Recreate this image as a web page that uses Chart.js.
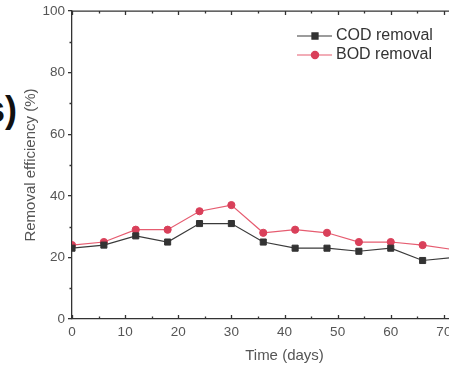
<!DOCTYPE html>
<html><head><meta charset="utf-8">
<script src="https://cdn.jsdelivr.net/npm/chart.js@4/dist/chart.umd.min.js"></script>
<style>
html,body{margin:0;padding:0;background:#fff;overflow:hidden;width:449px;height:366px;position:relative}
#wrap{position:absolute;left:0;top:0;width:540px;height:366px}
#frag{position:absolute;left:-15px;top:92px;font-family:"Liberation Sans",Arial,sans-serif;font-size:36px;font-weight:bold;line-height:1;color:#111;white-space:nowrap}
</style></head>
<body>
<div id="frag">s)</div>
<div id="wrap"><canvas id="c" width="540" height="366"></canvas></div>
<script>
const days = [0, 6, 12, 18, 24, 30, 36, 42, 48, 54, 60, 66, 72];
const codRemoval = [23, 24, 27, 25, 31, 31, 25, 23, 23, 22, 23, 19, 20];
const bodRemoval = [24, 25, 29, 29, 35, 37, 28, 29, 28, 25, 25, 24, 22.5];
const seriesNames = ['COD removal', 'BOD removal'];
const xAxisTitle = 'Time (days)';
const yAxisTitle = 'Removal efficiency (%)';

const FONT = '"Liberation Sans", Arial, sans-serif';

const decor = {
  id: 'decor',
  beforeDatasetsDraw(chart) {
    const {ctx, chartArea: a, scales: {x, y}} = chart;
    ctx.save();
    ctx.strokeStyle = '#333';
    ctx.lineWidth = 1.3;
    ctx.beginPath();
    ctx.moveTo(a.left, a.top); ctx.lineTo(a.right + 1, a.top);
    for (let v = x.min; v <= x.max; v += 5) {
      const px = Math.round(x.getPixelForValue(v)) + 0.5;
      const len = (v % 10 === 0) ? 4 : 2.5;
      ctx.moveTo(px, a.bottom); ctx.lineTo(px, a.bottom - len);
      ctx.moveTo(px, a.top); ctx.lineTo(px, a.top + len);
    }
    for (let v = y.min + 10; v < y.max; v += 20) {
      const py = Math.round(y.getPixelForValue(v)) + 0.5;
      ctx.moveTo(a.left, py); ctx.lineTo(a.left - 2.5, py);
    }
    ctx.stroke();
    ctx.restore();
  },
  afterDraw(chart) {
    const {ctx} = chart;
    ctx.save();
    chart.data.datasets.forEach((ds, i) => {
      const yy = 36 + i * 19;
      ctx.strokeStyle = ds.borderColor;
      ctx.lineWidth = 1.2;
      ctx.beginPath(); ctx.moveTo(297, yy); ctx.lineTo(332, yy); ctx.stroke();
      ctx.fillStyle = ds.pointBackgroundColor;
      ctx.strokeStyle = ds.pointBorderColor;
      Chart.helpers.drawPoint(ctx, {pointStyle: ds.pointStyle, radius: ds.pointRadius, borderWidth: 1}, 315, yy);
      ctx.fillStyle = '#333';
      ctx.font = '16px ' + FONT;
      ctx.textBaseline = 'middle';
      ctx.textAlign = 'left';
      ctx.fillText(ds.label, 336, yy);
    });
    ctx.restore();
  }
};

new Chart(document.getElementById('c'), {
  type: 'line',
  data: {
    datasets: [
      {
        label: seriesNames[0],
        data: days.map((d, i) => ({x: d, y: codRemoval[i]})),
        borderColor: '#3a3a3a', borderWidth: 1.2,
        pointStyle: 'rect', pointRadius: 4.3,
        pointBackgroundColor: '#333', pointBorderColor: '#333', pointBorderWidth: 1
      },
      {
        label: seriesNames[1],
        data: days.map((d, i) => ({x: d, y: bodRemoval[i]})),
        borderColor: '#e65c70', borderWidth: 1.2,
        pointStyle: 'circle', pointRadius: 3.6,
        pointBackgroundColor: '#d9405a', pointBorderColor: '#d9405a', pointBorderWidth: 1
      }
    ]
  },
  options: {
    responsive: false,
    animation: false,
    devicePixelRatio: 1,
    layout: {padding: {left: 0, top: 10, right: 43, bottom: 0}},
    plugins: {legend: {display: false}, tooltip: {enabled: false}},
    scales: {
      x: {
        type: 'linear', min: 0, max: 80,
        afterFit: s => { s.height = 47; },
        ticks: {stepSize: 10, color: '#555', font: {family: FONT, size: 13.5}, padding: 5, maxRotation: 0},
        grid: {drawOnChartArea: false, drawTicks: false},
        border: {display: true, color: '#333', width: 1.3},
        title: {display: true, text: xAxisTitle, color: '#555', font: {family: FONT, size: 15}, padding: {top: 0, bottom: 1}}
      },
      y: {
        min: 0, max: 100,
        afterFit: s => { s.width = 72; },
        ticks: {stepSize: 20, color: '#555', font: {family: FONT, size: 13.5}, padding: 3},
        grid: {drawOnChartArea: false, drawTicks: true, tickLength: 4, color: '#333', lineWidth: 1.3},
        border: {display: true, color: '#333', width: 1.3},
        title: {display: true, text: yAxisTitle, color: '#555', font: {family: FONT, size: 15}, padding: {top: 22, bottom: 0}}
      }
    }
  },
  plugins: [decor]
});
</script>
</body></html>
